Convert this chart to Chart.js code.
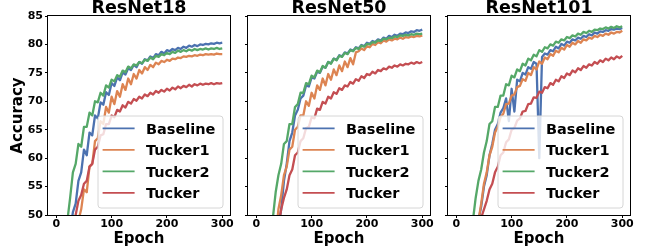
<!DOCTYPE html>
<html>
<head>
<meta charset="utf-8">
<script src="https://cdn.jsdelivr.net/npm/chart.js@4.4.0/dist/chart.umd.min.js"></script>
<style>
  body { margin: 0; background: #fff; }
  #wrap { position: relative; width: 651px; height: 252px; overflow: hidden; }
  canvas { position: absolute; top: 0; }
</style>
</head>
<body>
<div id="wrap">
  <canvas id="c18" width="236" height="252" style="left:0px"></canvas>
  <canvas id="c50" width="200" height="252" style="left:236px"></canvas>
  <canvas id="c101" width="215" height="252" style="left:436px"></canvas>
</div>
<script>
// Epochs sampled every 5
const epochs = [
  0, 5, 10, 15, 20, 25, 30, 35, 40, 45,
  50, 55, 60, 65, 70, 75, 80, 85, 90, 95,
  100, 105, 110, 115, 120, 125, 130, 135, 140, 145,
  150, 155, 160, 165, 170, 175, 180, 185, 190, 195,
  200, 205, 210, 215, 220, 225, 230, 235, 240, 245,
  250, 255, 260, 265, 270, 275, 280, 285, 290, 295,
  300
];

const seriesNames = ['Baseline', 'Tucker1', 'Tucker2', 'Tucker'];
const seriesColors = ['#4c72b0', '#dd8452', '#55a868', '#c44e52'];

const xTicks = [0, 100, 200, 300];
const yTicks = [50, 55, 60, 65, 70, 75, 80, 85];

// ResNet18
const r18Baseline = [
  10, 20, 30, 38, 43, 47, 50.5, 52, 56, 57.5,
  61.5, 60.5, 64.5, 64, 67.5, 67, 69.8, 69.4, 71.6, 71.1,
  73.2, 72.7, 74.2, 73.7, 75.1, 74.7, 75.8, 75.5, 76.4, 76.0,
  76.9, 76.6, 77.4, 77.2, 77.9, 77.6, 78.3, 78.1, 78.7, 78.4,
  79.0, 78.8, 79.2, 79.0, 79.4, 79.2, 79.6, 79.4, 79.8, 79.6,
  79.9, 79.7, 80.0, 79.9, 80.1, 80.0, 80.2, 80.1, 80.3, 80.2,
  80.3
];
const r18Tucker1 = [
  5, 10, 18, 25, 32, 37, 42, 46, 49, 51,
  54.5, 54, 58.5, 59, 63, 63.5, 66.5, 66, 69, 68,
  70.8, 69.5, 71.8, 70.8, 73, 72, 74, 73, 74.8, 74,
  75.5, 74.9, 76, 75.5, 76.4, 76, 76.8, 76.5, 77.1, 76.9,
  77.3, 77.1, 77.5, 77.4, 77.7, 77.6, 77.9, 77.8, 78.0, 77.9,
  78.1, 78.0, 78.2, 78.1, 78.3, 78.2, 78.3, 78.2, 78.4, 78.3,
  78.3
];
const r18Tucker2 = [
  10, 22, 33, 42, 49, 53, 57.5, 59, 62.5, 62,
  65.5, 65.5, 68, 67.5, 70, 69.8, 71.5, 71, 72.8, 72.4,
  73.8, 73.5, 74.6, 74.3, 75.4, 75.1, 76.1, 75.8, 76.5, 76.3,
  76.9, 76.7, 77.3, 77.1, 77.7, 77.4, 78.0, 77.8, 78.3, 78.1,
  78.5, 78.3, 78.7, 78.5, 78.9, 78.7, 79.0, 78.8, 79.1, 78.9,
  79.2, 79.0, 79.2, 79.1, 79.3, 79.1, 79.3, 79.2, 79.4, 79.2,
  79.3
];
const r18Tucker = [
  5, 12, 20, 28, 35, 41, 46, 50, 52.5, 53.5,
  55.5, 56, 58.5, 59, 61.5, 62, 64, 64.2, 66, 66,
  67.5, 67.2, 68.5, 68.2, 69.3, 68.9, 69.9, 69.6, 70.4, 70.1,
  70.8, 70.5, 71.2, 70.9, 71.5, 71.2, 71.8, 71.5, 72.0, 71.7,
  72.2, 71.9, 72.4, 72.1, 72.6, 72.3, 72.7, 72.5, 72.9, 72.6,
  73.0, 72.8, 73.1, 72.9, 73.1, 73.0, 73.2, 73.0, 73.2, 73.1,
  73.2
];

// ResNet50
const r50Baseline = [
  5, 10, 16, 22, 28, 34, 40, 44, 48, 51,
  56, 59, 63, 64.5, 67.5, 68.5, 70.5, 71, 72.8, 72.6,
  74.2, 74, 75.2, 75, 76.1, 75.9, 76.9, 76.7, 77.5, 77.3,
  78.1, 77.9, 78.6, 78.4, 79.1, 78.9, 79.5, 79.3, 79.9, 79.7,
  80.3, 80.1, 80.6, 80.4, 80.9, 80.7, 81.2, 81.0, 81.5, 81.3,
  81.7, 81.5, 81.9, 81.8, 82.1, 82.0, 82.3, 82.2, 82.5, 82.4,
  82.6
];
const r50Tucker1 = [
  5, 10, 17, 24, 30, 36, 41, 46, 51, 53.5,
  57, 58.5, 61.5, 62, 65, 65.5, 67.5, 67.5, 70, 69.2,
  71.5, 70.5, 72.8, 72, 74, 72.8, 74.8, 73.8, 75.6, 74.6,
  76.3, 75.3, 77, 76, 77.6, 76.5, 78.6, 78.8, 79.3, 79.0,
  79.7, 79.5, 80.1, 79.9, 80.4, 80.2, 80.7, 80.5, 80.9, 80.7,
  81.0, 80.9, 81.2, 81.0, 81.3, 81.2, 81.4, 81.3, 81.5, 81.4,
  81.6
];
const r50Tucker2 = [
  5, 12, 20, 28, 36, 43, 49.5, 54, 57, 59,
  62.5, 63, 66, 66, 69, 69.5, 71.5, 71.5, 73.2, 73,
  74.5, 74.2, 75.4, 75.1, 76.2, 75.9, 76.9, 76.6, 77.5, 77.2,
  78, 77.8, 78.5, 78.3, 79, 78.8, 79.4, 79.2, 79.8, 79.6,
  80.1, 80, 80.4, 80.3, 80.7, 80.6, 81, 80.9, 81.2, 81.1,
  81.4, 81.3, 81.6, 81.5, 81.7, 81.6, 81.8, 81.7, 81.9, 81.8,
  81.9
];
const r50Tucker = [
  5, 10, 16, 22, 28, 33, 38, 43, 48, 51,
  53, 54.5, 57, 58, 60.5, 61, 63, 63.5, 65.3, 65.5,
  67.2, 67.0, 68.7, 68.5, 69.9, 69.6, 70.8, 70.5, 71.6, 71.3,
  72.3, 72.0, 72.8, 72.6, 73.4, 73.1, 73.9, 73.6, 74.4, 74.1,
  74.8, 74.6, 75.2, 74.9, 75.5, 75.3, 75.8, 75.6, 76.1, 75.9,
  76.3, 76.1, 76.5, 76.3, 76.6, 76.5, 76.8, 76.6, 76.9, 76.7,
  76.9
];

// ResNet101
const r101Baseline = [
  5, 10, 17, 24, 30, 36, 41, 45, 49, 51.5,
  55, 57, 60.5, 62.5, 65, 66, 68, 68.8, 70.5, 66.5,
  72.2, 68.2, 73.8, 73.5, 75, 74.7, 76, 75.7, 76.9, 76.6,
  60, 77.8, 78.4, 78.2, 79, 78.8, 79.6, 79.3, 80.1, 79.8,
  80.5, 80.3, 80.9, 80.7, 81.2, 81.0, 81.5, 81.3, 81.8, 81.6,
  82.1, 81.9, 82.3, 82.2, 82.5, 82.4, 82.7, 82.6, 82.8, 82.7,
  82.9
];
const r101Tucker1 = [
  5, 10, 17, 24, 30, 36, 41, 45, 49, 52,
  55.5, 57.5, 60.5, 62, 64.5, 65.5, 67.2, 67.8, 69.5, 69.6,
  71, 71.2, 72.5, 72.7, 73.9, 73.6, 75, 74.6, 76, 75.6,
  77, 76.6, 77.7, 77.4, 78.3, 78.0, 78.9, 78.6, 79.4, 79.1,
  79.9, 79.6, 80.3, 80.0, 80.6, 80.3, 80.9, 80.7, 81.2, 81.0,
  81.5, 81.3, 81.7, 81.5, 81.9, 81.7, 82.1, 81.9, 82.2, 82.1,
  82.4
];
const r101Tucker2 = [
  5, 12, 20, 28, 35, 42, 49, 53, 56, 58,
  61, 63, 66, 66.5, 69, 69, 71, 71, 73, 72.8,
  74.5, 74.2, 75.6, 75.3, 76.6, 76.3, 77.5, 77.2, 78.2, 77.9,
  79, 78.7, 79.5, 79.3, 80, 79.8, 80.5, 80.3, 80.9, 80.7,
  81.3, 81.1, 81.6, 81.4, 81.9, 81.7, 82.2, 82.0, 82.4, 82.2,
  82.6, 82.5, 82.8, 82.7, 83.0, 82.8, 83.1, 82.9, 83.2, 83.0,
  83.2
];
const r101Tucker = [
  5, 10, 16, 22, 28, 33, 38, 42, 46, 49.5,
  51, 52.5, 54.5, 55.5, 57.5, 58.5, 60.5, 61, 62.8, 63.3,
  65, 65.3, 66.6, 67, 68.2, 68.3, 69.5, 69.6, 70.7, 70.6,
  71.7, 71.5, 72.5, 72.3, 73.2, 72.9, 73.8, 73.5, 74.4, 74.1,
  74.9, 74.6, 75.4, 75.1, 75.8, 75.5, 76.2, 75.9, 76.5, 76.3,
  76.9, 76.6, 77.2, 76.9, 77.5, 77.2, 77.7, 77.4, 77.9, 77.6,
  78.0
];

const FONT = "'DejaVu Sans', sans-serif";
Chart.defaults.font.family = FONT;
Chart.defaults.font.weight = 'bold';
Chart.defaults.color = '#000';

// frame, legend box and panel title
const panelPlugin = {
  id: 'panel',
  afterDatasetsDraw(chart, args, opts) {
    const ctx = chart.ctx;
    const a = chart.chartArea;
    ctx.save();

    // spines
    ctx.strokeStyle = '#000';
    ctx.lineWidth = 1;
    ctx.strokeRect(a.left - 0.5, a.top - 0.5, a.right - a.left + 1, a.bottom - a.top + 1);

    // legend
    const w = 125, h = 92;
    const bx = a.right - 7 - w, by = a.bottom - 7 - h;
    const r = 3;
    ctx.beginPath();
    ctx.moveTo(bx + r, by);
    ctx.arcTo(bx + w, by, bx + w, by + h, r);
    ctx.arcTo(bx + w, by + h, bx, by + h, r);
    ctx.arcTo(bx, by + h, bx, by, r);
    ctx.arcTo(bx, by, bx + w, by, r);
    ctx.closePath();
    ctx.fillStyle = 'rgba(255,255,255,0.8)';
    ctx.fill();
    ctx.strokeStyle = '#d6d6d6';
    ctx.stroke();

    ctx.font = 'bold 14.5px ' + FONT;
    ctx.textAlign = 'left';
    ctx.textBaseline = 'alphabetic';
    seriesNames.forEach((name, i) => {
      const cy = by + 12.3 + i * 21.5;
      ctx.strokeStyle = seriesColors[i];
      ctx.lineWidth = 1.8;
      ctx.beginPath();
      ctx.moveTo(bx + 4.6, cy);
      ctx.lineTo(bx + 36.6, cy);
      ctx.stroke();
      ctx.fillStyle = '#000';
      ctx.fillText(name, bx + 48, cy + 5.3);
    });

    // title
    ctx.font = 'bold 17.5px ' + FONT;
    ctx.textAlign = 'center';
    ctx.fillStyle = '#000';
    ctx.fillText(opts.text, (a.left + a.right) / 2, 13);
    ctx.restore();
  }
};

function makeChart(id, title, series, yWidth, padRight, showY) {
  const tickGrid = { drawOnChartArea: false, drawTicks: true, tickLength: 3, color: '#000', lineWidth: 1 };
  return new Chart(document.getElementById(id), {
    type: 'line',
    data: {
      datasets: series.map((vals, i) => ({
        label: seriesNames[i],
        data: epochs.map((e, j) => ({ x: e, y: vals[j] })),
        borderColor: seriesColors[i],
        borderWidth: 2.3,
        borderJoinStyle: 'round',
        pointRadius: 0,
        tension: 0,
        order: series.length - i
      }))
    },
    options: {
      responsive: false,
      animation: false,
      events: [],
      layout: { padding: { left: 0, top: 16, right: padRight, bottom: 0 } },
      plugins: {
        legend: { display: false },
        tooltip: { enabled: false },
        panel: { text: title }
      },
      scales: {
        x: {
          type: 'linear',
          min: -15,
          max: 314,
          afterBuildTicks: s => { s.ticks = xTicks.map(v => ({ value: v })); },
          afterFit: s => { s.height = 37; },
          grid: tickGrid,
          border: { display: false },
          ticks: { padding: 1, maxRotation: 0, font: { size: 11, weight: 'bold', lineHeight: 1 } },
          title: { display: true, text: 'Epoch', font: { size: 15, weight: 'bold' }, padding: { top: 0, bottom: 4 } }
        },
        y: {
          type: 'linear',
          min: 50,
          max: 85,
          afterBuildTicks: s => { s.ticks = yTicks.map(v => ({ value: v })); },
          afterFit: s => { s.width = yWidth; },
          grid: tickGrid,
          border: { display: false },
          ticks: { display: showY, padding: 2, font: { size: 11, weight: 'bold', lineHeight: 1 } },
          title: { display: showY, text: 'Accuracy', font: { size: 15, weight: 'bold' }, padding: { top: 9.5, bottom: 0 } }
        }
      }
    },
    plugins: [panelPlugin]
  });
}

makeChart('c18', 'ResNet18', [r18Baseline, r18Tucker1, r18Tucker2, r18Tucker], 48, 6, true);
makeChart('c50', 'ResNet50', [r50Baseline, r50Tucker1, r50Tucker2, r50Tucker], 12, 6, false);
makeChart('c101', 'ResNet101', [r101Baseline, r101Tucker1, r101Tucker2, r101Tucker], 12, 21, false);
</script>
</body>
</html>
